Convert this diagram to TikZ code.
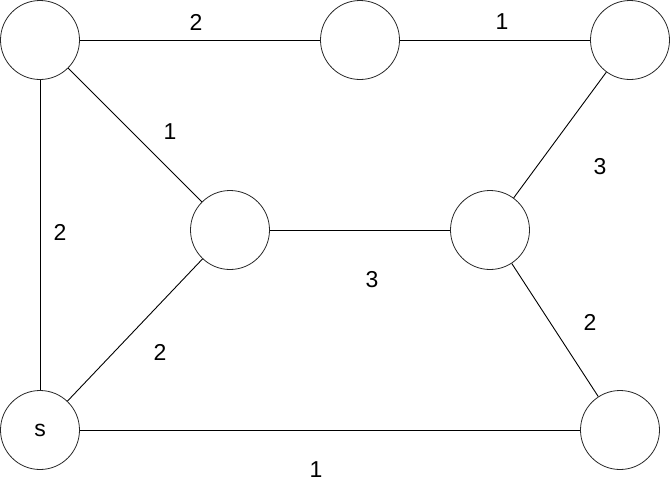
\documentclass[tikz,border=0pt]{standalone}
\usepackage{fontspec}
\setmainfont{Liberation Sans}
\begin{document}
\begin{tikzpicture}[x=1pt,y=-1pt,
  vtx/.style={circle,draw=black!85,line width=0.8pt,minimum size=79pt,inner sep=0pt,font=\fontsize{23}{27}\selectfont},
  edge/.style={draw=black,line width=0.9pt},
  lbl/.style={font=\fontsize{23}{27}\selectfont,inner sep=0pt}]
\useasboundingbox (0,0) rectangle (671,491);
\node[vtx] (a) at (40,40) {};
\node[vtx] (b) at (360,40) {};
\node[vtx] (c) at (630,40) {};
\node[vtx] (d) at (230,230) {};
\node[vtx] (e) at (490,230) {};
\node[vtx] (s) at (40,430) {s};
\node[vtx] (f) at (620,430) {};
\draw[edge] (a) -- (b);
\draw[edge] (b) -- (c);
\draw[edge] (a) -- (d);
\draw[edge] (a) -- (s);
\draw[edge] (d) -- (e);
\draw[edge] (c) -- (e);
\draw[edge] (e) -- (f);
\draw[edge] (s) -- (d);
\draw[edge] (s) -- (f);
\node[lbl] (l1) at (196,22) {2};
\node[lbl] (l2) at (502,22) {1};
\node[lbl] (l3) at (170,132) {1};
\node[lbl] (l4) at (60,232) {2};
\node[lbl] (l5) at (372,280) {3};
\node[lbl] (l6) at (600,167) {3};
\node[lbl] (l7) at (590,322) {2};
\node[lbl] (l8) at (160,352) {2};
\node[lbl] (l9) at (316,470) {1};
\end{tikzpicture}
\end{document}
